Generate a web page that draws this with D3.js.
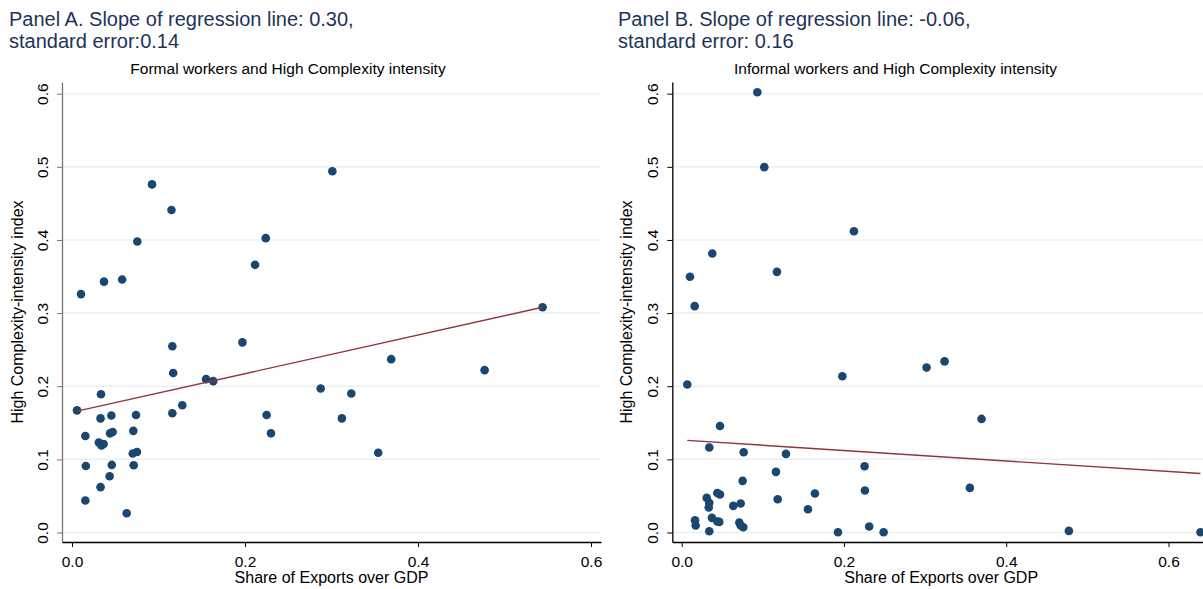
<!DOCTYPE html>
<html>
<head>
<meta charset="utf-8">
<script src="https://cdn.jsdelivr.net/npm/d3@7"></script>
<style>
  html, body { margin: 0; padding: 0; background: #fff; overflow: hidden; }
  svg { display: block; font-family: "Liberation Sans", Arial, sans-serif; }
</style>
</head>
<body>
<svg id="chart" width="1203" height="589"></svg>
<script>
// ---------------- Data ----------------
const titlesA = ["Panel A. Slope of regression line: 0.30,", "standard error:0.14"];
const titlesB = ["Panel B. Slope of regression line: -0.06,", "standard error: 0.16"];
const subtitleA = "Formal workers and High Complexity intensity";
const subtitleB = "Informal workers and High Complexity intensity";
const xTitle = "Share of Exports over GDP";
const yTitle = "High Complexity-intensity index";
const xTicks = [0, 0.2, 0.4, 0.6];
const yTicks = [0, 0.1, 0.2, 0.3, 0.4, 0.5, 0.6];

// Panel A: formal workers
const formalX = [0.0104, 0.037, 0.058, 0.0755, 0.0925, 0.115, 0.2116, 0.224, 0.301, 0.544,
  0.369, 0.477, 0.2875, 0.3229, 0.312, 0.354, 0.0058, 0.0154, 0.016, 0.0154,
  0.0335, 0.033, 0.0455, 0.031, 0.034, 0.0366, 0.044, 0.047, 0.046, 0.0435,
  0.033, 0.0632, 0.0709, 0.074, 0.0702, 0.0751, 0.0713, 0.116, 0.117, 0.116,
  0.1275, 0.155, 0.1633, 0.197, 0.225, 0.230];
const formalY = [0.326, 0.343, 0.346, 0.398, 0.476, 0.441, 0.366, 0.4025, 0.494, 0.308,
  0.237, 0.222, 0.197, 0.190, 0.156, 0.109, 0.167, 0.132, 0.091, 0.0437,
  0.189, 0.156, 0.160, 0.123, 0.119, 0.121, 0.1356, 0.1374, 0.0924, 0.077,
  0.062, 0.0264, 0.139, 0.1606, 0.108, 0.110, 0.092, 0.2547, 0.218, 0.163,
  0.174, 0.2097, 0.207, 0.260, 0.1606, 0.1356];
const fitAX = [0.0058, 0.544];
const fitAY = [0.166, 0.308];

// Panel B: informal workers
const informalX = [0.0932, 0.1018, 0.2123, 0.0377, 0.0102, 0.1174, 0.016, 0.0069, 0.198, 0.0472,
  0.034, 0.0764, 0.1285, 0.2254, 0.1162, 0.0751, 0.2258, 0.1642, 0.1183, 0.1556,
  0.0308, 0.034, 0.0333, 0.0439, 0.0472, 0.0636, 0.0727, 0.0164, 0.0172, 0.0373,
  0.0439, 0.0463, 0.034, 0.071, 0.0727, 0.0759, 0.1926, 0.2311, 0.2489, 0.3018,
  0.324, 0.3696, 0.3552, 0.4772, 0.6394];
const informalY = [0.602, 0.4996, 0.412, 0.3815, 0.3497, 0.3564, 0.3095, 0.2023, 0.2137, 0.1457,
  0.1162, 0.1098, 0.1075, 0.0906, 0.0829, 0.0706, 0.0574, 0.0533, 0.0455, 0.0318,
  0.0473, 0.0405, 0.0342, 0.0541, 0.0519, 0.0364, 0.0396, 0.0168, 0.0096, 0.02,
  0.015, 0.0145, 0.0018, 0.0137, 0.0096, 0.0072, 0.0004, 0.0082, 0.0004, 0.2255,
  0.234, 0.1553, 0.061, 0.0022, 0.0004];
const fitBX = [0.0069, 0.6394];
const fitBY = [0.126, 0.0806];

// ---------------- Drawing ----------------
const svg = d3.select("#chart");
const dotColor = "#1a476f";
const lineColor = "#90353b";
const gridColor = "#eaf0f1";
const titleColor = "#22335a";

function panel(cfg) {
  const g = svg.append("g");
  const x0 = d3.scaleLinear().domain([0, 0.6]).range([cfg.x0px, cfg.x6px]);
  const y0 = d3.scaleLinear().domain([0, 0.6]).range([532.5, 93.7]);
  const x = x0.copy().domain([x0.invert(cfg.left), x0.invert(cfg.right)]).range([cfg.left, cfg.right]);
  const y = y0.copy().domain([y0.invert(542), y0.invert(82)]).range([542, 82]);

  // gridlines
  g.append("g").selectAll("line").data(yTicks).join("line")
    .attr("x1", cfg.left).attr("x2", cfg.right)
    .attr("y1", d => y(d)).attr("y2", d => y(d))
    .attr("stroke", gridColor).attr("stroke-width", 1.5);

  // y axis
  const ya = g.append("g").attr("transform", `translate(${cfg.left},0)`)
    .call(d3.axisLeft(y).tickValues(yTicks).tickSize(5).tickSizeOuter(0).tickFormat(d3.format(".1f")));
  ya.select(".domain").attr("stroke", cfg.yAxisColor).attr("stroke-width", 1.3);
  ya.selectAll(".tick line").attr("stroke", cfg.yAxisColor);
  ya.selectAll(".tick text")
    .attr("transform", "rotate(-90)")
    .attr("x", 0).attr("y", -14.5).attr("dy", 0)
    .attr("text-anchor", "middle")
    .attr("font-size", 15.5).attr("fill", "#000")
    .attr("font-family", "Liberation Sans, Arial, sans-serif");

  // x axis
  const xa = g.append("g").attr("transform", "translate(0,542)")
    .call(d3.axisBottom(x).tickValues(xTicks).tickSize(5).tickSizeOuter(0).tickFormat(d3.format(".1f")));
  xa.select(".domain").attr("stroke", "#000").attr("stroke-width", 1.3);
  xa.selectAll(".tick line").attr("stroke", "#000");
  xa.selectAll(".tick text")
    .attr("y", 24.5).attr("dy", 0)
    .attr("font-size", 15.5).attr("fill", "#000")
    .attr("font-family", "Liberation Sans, Arial, sans-serif");

  // points
  g.append("g").selectAll("circle").data(cfg.xs.map((v, i) => [v, cfg.ys[i]])).join("circle")
    .attr("cx", d => x(d[0])).attr("cy", d => y(d[1])).attr("r", 4.3)
    .attr("fill", dotColor);

  // regression line
  g.append("path")
    .datum(cfg.fx.map((v, i) => [v, cfg.fy[i]]))
    .attr("d", d3.line().x(d => x(d[0])).y(d => y(d[1])))
    .attr("fill", "none").attr("stroke", lineColor).attr("stroke-width", 1.4);

  // titles
  cfg.titles.forEach((t, i) => {
    g.append("text").attr("x", cfg.titleX).attr("y", 26 + i * 21.5)
      .attr("font-size", 20).attr("fill", titleColor).text(t);
  });
  g.append("text").attr("x", cfg.subX).attr("y", 74).attr("text-anchor", "middle")
    .attr("font-size", 15.5).attr("fill", "#000").text(cfg.subtitle);

  // axis titles
  g.append("text").attr("x", (cfg.left + cfg.right) / 2).attr("y", 583)
    .attr("text-anchor", "middle").attr("font-size", 16).attr("fill", "#000").text(xTitle);
  g.append("text").attr("transform", `translate(${cfg.yTitleX},312) rotate(-90)`)
    .attr("text-anchor", "middle").attr("font-size", 16).attr("fill", "#000").text(yTitle);
}

panel({
  x0px: 72, x6px: 591, left: 62, right: 601,
  xs: formalX, ys: formalY, fx: fitAX, fy: fitAY,
  titles: titlesA, titleX: 9, subtitle: subtitleA, subX: 288,
  yTitleX: 22.5, yAxisColor: "#777"
});
panel({
  x0px: 681.7, x6px: 1168.5, left: 672.3, right: 1210,
  xs: informalX, ys: informalY, fx: fitBX, fy: fitBY,
  titles: titlesB, titleX: 618, subtitle: subtitleB, subX: 895.5,
  yTitleX: 632, yAxisColor: "#000"
});
</script>
</body>
</html>
